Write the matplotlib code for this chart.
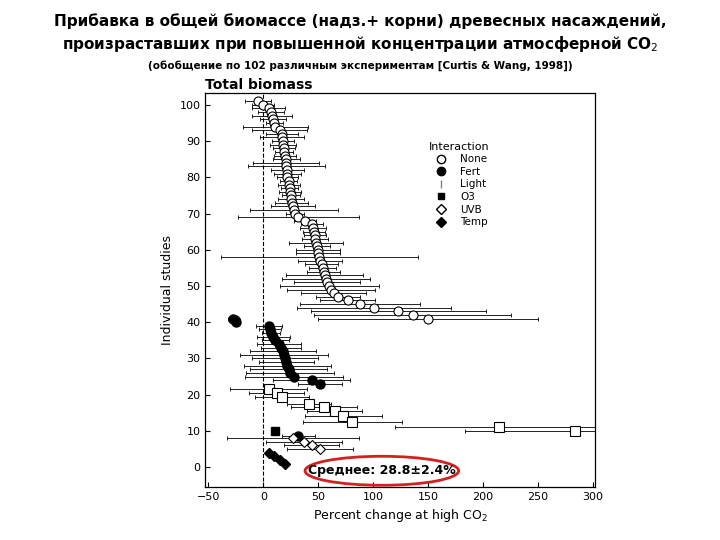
import matplotlib
matplotlib.use("Agg")
import matplotlib.pyplot as plt
from matplotlib.patches import Ellipse
from matplotlib.lines import Line2D

# --- data ---
none_y = list(range(101, 40, -1))
none_x = [-5, 0, 5, 7, 8, 9, 10, 11, 15, 17, 17, 18, 18, 19, 19, 20, 21, 21, 21, 22, 22, 22, 23, 23, 24, 24, 25,
          25, 26, 27, 28, 29, 32, 38, 44, 45, 46, 47, 47, 48, 49, 50, 50, 51, 52, 53, 54, 55, 56, 57, 58, 60,
          62, 64, 68, 77, 88, 101, 123, 136, 150]
none_err = [12, 10, 15, 12, 18, 12, 8, 30, 25, 15, 20, 10, 12, 10, 8, 10, 12, 30, 35, 15, 12, 10, 8, 10, 8, 10, 8,
            12, 15, 20, 40, 8, 55, 10, 10, 12, 10, 10, 12, 25, 12, 20, 20, 90, 20, 15, 12, 15, 35, 40, 30, 45,
            40, 30, 20, 25, 55, 70, 80, 90, 100]
fert_y = [41, 40.5, 40, 39, 38, 37, 36, 35, 34, 33, 32, 31, 30, 29, 28, 27, 26, 25, 24, 23, 8.5]
fert_x = [-28, -26, -25, 5, 6, 7, 9, 11, 14, 16, 18, 19, 20, 21, 22, 23, 24, 28, 44, 52, 32]
fert_err = [4, 5, 4, 12, 10, 8, 15, 12, 20, 18, 30, 40, 30, 25, 40, 35, 40, 45, 35, 20, 15]
light_y = [21.5, 20.5, 19.5, 17.5, 16.5, 15.5, 14, 12.5, 11.2, 10]
light_x = [5, 12, 17, 42, 55, 65, 73, 81, 215, 284]
light_err = [35, 25, 25, 20, 30, 25, 35, 45, 95, 100]
o3_y = [10]
o3_x = [11]
uvb_y = [8, 7, 6, 5]
uvb_x = [27, 37, 44, 52]
uvb_err = [60, 35, 25, 30]
temp_y = [4, 3, 2, 1]
temp_x = [5, 10, 15, 20]

fig = plt.figure(figsize=(7.2, 5.4), dpi=100)
fig.text(0.5, 0.975, "Прибавка в общей биомассе (надз.+ корни) древесных насаждений,\n"
         "произраставших при повышенной концентрации атмосферной CO$_2$",
         ha="center", va="top", fontsize=11, fontweight="bold", linespacing=1.35)
fig.text(0.5, 0.878, "(обобщение по 102 различным экспериментам [Curtis & Wang, 1998])",
         ha="center", va="center", fontsize=7.5, fontweight="bold")

ax = fig.add_axes([0.285, 0.098, 0.541, 0.73])
eb = dict(fmt="none", ecolor="black", elinewidth=0.6, capsize=1.5, capthick=0.6, zorder=1)
ax.errorbar(none_x, none_y, xerr=none_err, **eb)
ax.errorbar(fert_x, fert_y, xerr=fert_err, **eb)
ax.errorbar(light_x, light_y, xerr=light_err, **eb)
ax.errorbar(uvb_x, uvb_y, xerr=uvb_err, **eb)
ms = 6.5
ax.plot(none_x, none_y, "o", ms=ms, mfc="white", mec="black", mew=0.8, zorder=2, ls="none")
ax.plot(fert_x, fert_y, "o", ms=ms, mfc="black", mec="black", zorder=2, ls="none")
ax.plot(light_x, light_y, "s", ms=ms, mfc="white", mec="black", mew=0.8, zorder=2, ls="none")
ax.plot(o3_x, o3_y, "s", ms=5.5, mfc="black", mec="black", zorder=2, ls="none")
ax.plot(uvb_x, uvb_y, "D", ms=5.5, mfc="white", mec="black", mew=0.8, zorder=2, ls="none")
ax.plot(temp_x, temp_y, "D", ms=5.5, mfc="black", mec="black", zorder=2, ls="none")
ax.axvline(0, color="black", ls="--", lw=0.8, zorder=0)

ax.set_xlim(-53, 302)
ax.set_ylim(-5.5, 103.3)
ax.set_xticks(range(-50, 301, 50))
ax.set_yticks(range(0, 101, 10))
ax.tick_params(labelsize=8, direction="in")
ax.set_xlabel("Percent change at high CO$_2$", fontsize=9)
ax.set_ylabel("Individual studies", fontsize=9)
ax.set_title("Total biomass", loc="left", fontsize=10, fontweight="bold", pad=3)
for s in ax.spines.values():
    s.set_linewidth(0.9)

handles = [
    Line2D([], [], marker="o", ls="none", mfc="white", mec="black", ms=6, label="None"),
    Line2D([], [], marker="o", ls="none", mfc="black", mec="black", ms=6, label="Fert"),
    Line2D([], [], marker="|", ls="none", color="gray", ms=6, label="Light"),
    Line2D([], [], marker="s", ls="none", mfc="black", mec="black", ms=5, label="O3"),
    Line2D([], [], marker="D", ls="none", mfc="white", mec="black", ms=5, label="UVB"),
    Line2D([], [], marker="D", ls="none", mfc="black", mec="black", ms=5, label="Temp"),
]
ax.legend(handles=handles, title="Interaction", frameon=False, fontsize=7.5, title_fontsize=8,
          loc="upper left", bbox_to_anchor=(0.55, 0.9), handletextpad=0.8, labelspacing=0.25)

ax.add_patch(Ellipse((108, -1), 140, 8, fill=False, ec="#d42020", lw=2, zorder=3))
ax.text(108, -1, "Среднее: 28.8±2.4%", ha="center", va="center", fontsize=9, fontweight="bold", zorder=4)

fig.savefig("out.png", dpi=100)
